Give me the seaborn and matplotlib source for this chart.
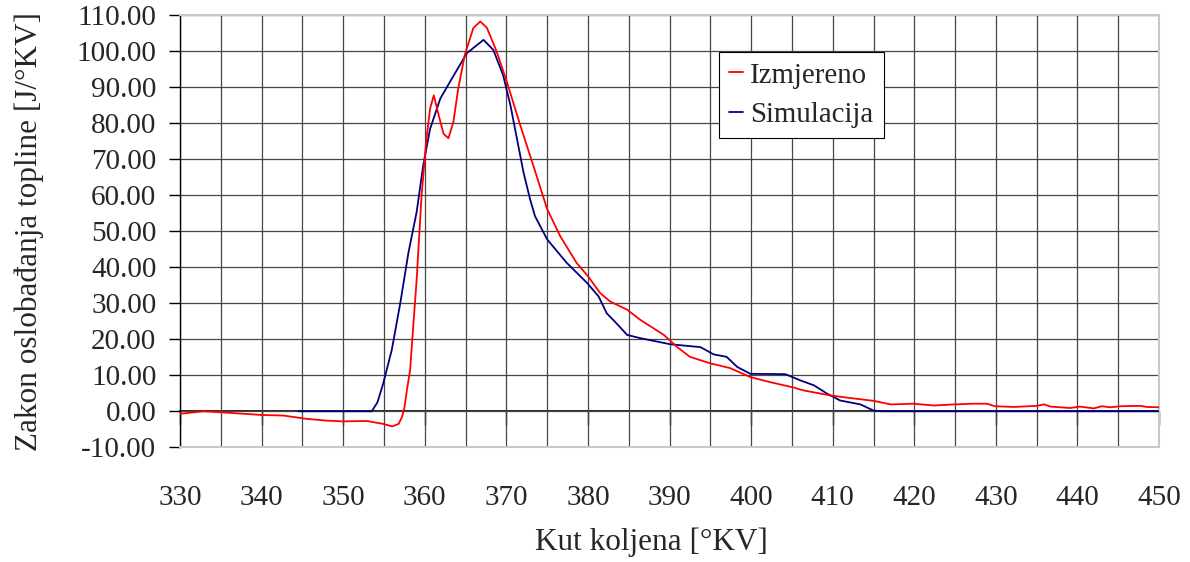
import numpy as np
import pandas as pd
import seaborn as sns
import matplotlib.pyplot as plt
from matplotlib.ticker import MultipleLocator, FormatStrFormatter

# measured heat release (Izmjereno)
kut_izmj = [330, 332.9, 336.5, 339.8, 342.7, 345.5, 348, 350, 352.9, 354.9, 356, 356.8,
            357.2, 357.5, 357.8, 358.2, 358.4, 359, 359.6, 360.2, 360.65, 361.1, 361.7,
            362.3, 362.9, 363.5, 364.1, 364.9, 365.95, 366.8, 367.6, 368.8, 370.05, 371.7,
            373.3, 375, 376.6, 378.6, 380, 381.5, 382.7, 384.8, 386.4, 389.3, 390.9, 392.5,
            395, 397.4, 399.9, 402.3, 405.2, 406.4, 409.7, 411.7, 415, 417.1, 419.9, 422.4,
            424.8, 427.3, 428.9, 429.9, 432.2, 435, 435.9, 436.7, 439.1, 440.3, 442, 443,
            444, 445.3, 447.7, 448.5, 450]
izmjereno = [-0.7, 0.0, -0.5, -1.0, -1.2, -2.1, -2.6, -2.8, -2.7, -3.5, -4.2, -3.5,
             -1.6, 1.0, 5.8, 11.4, 17.9, 36.5, 59.8, 75.6, 84.0, 87.7, 82.2,
             77.0, 75.8, 80.3, 89.6, 98.9, 106.4, 108.2, 106.5, 99.9, 91.5, 79.4,
             68.2, 56.1, 48.6, 41.2, 37.5, 32.8, 30.5, 28.2, 25.4, 21.2, 17.9, 15.1,
             13.3, 12.0, 9.5, 8.1, 6.6, 5.8, 4.4, 3.8, 2.9, 1.9, 2.1, 1.6,
             1.9, 2.1, 2.1, 1.4, 1.2, 1.5, 1.9, 1.3, 0.9, 1.3, 0.8, 1.4,
             1.1, 1.4, 1.5, 1.2, 1.1]

# simulated heat release (Simulacija)
kut_sim = [344.5, 353.5, 354.2, 354.9, 355.95, 357, 358, 359, 359.8, 360.65, 361.9, 363.1,
           365.15, 367.2, 368.4, 369.6, 370.5, 371.3, 372.1, 372.9, 373.5, 375, 377.4,
           379.9, 381.3, 382.3, 383.5, 384.8, 386.4, 390.1, 393.8, 395.4, 397, 398.3,
           399.9, 404.2, 406, 407.7, 409.3, 410.9, 413.4, 415, 416, 450]
simulacija = [0.0, 0.0, 2.5, 7.7, 17.0, 30.1, 44.1, 55.3, 68.2, 78.4, 86.8, 91.5,
              99.4, 103.1, 100.3, 93.3, 84.9, 75.6, 66.3, 58.9, 54.2, 47.7, 41.2,
              35.6, 31.9, 27.2, 24.4, 21.2, 20.3, 18.6, 17.8, 15.8, 15.1, 12.3,
              10.4, 10.3, 8.6, 7.2, 4.9, 3.0, 1.9, 0.2, 0.0, 0.0]

sns.set_style('white')
plt.rcParams['font.family'] = ['Liberation Serif', 'DejaVu Serif']

fig = plt.figure(figsize=(11.9, 5.62), dpi=100)
ax = fig.add_axes([0.1513, 0.2041, 0.8227, 0.7692])

df_izmj = pd.DataFrame({'kut': kut_izmj, 'q': izmjereno})
df_sim = pd.DataFrame({'kut': kut_sim, 'q': simulacija})

sns.lineplot(data=df_izmj, x='kut', y='q', ax=ax, color='#ff0000', lw=1.3,
             label='Izmjereno', sort=False, estimator=None, zorder=4)
sns.lineplot(data=df_sim, x='kut', y='q', ax=ax, color='#000080', lw=1.3,
             label='Simulacija', sort=False, estimator=None, zorder=3)

ax.set_xlim(330, 450)
ax.set_ylim(-10, 110)
ax.xaxis.set_major_locator(MultipleLocator(10))
ax.xaxis.set_minor_locator(MultipleLocator(5))
ax.yaxis.set_major_locator(MultipleLocator(10))
ax.yaxis.set_major_formatter(FormatStrFormatter('%.2f'))

ax.grid(True, which='both', axis='x', color='#454545', lw=0.9)
ax.grid(True, which='major', axis='y', color='#454545', lw=0.9)
ax.set_axisbelow(True)

for s in ['top', 'right', 'bottom']:
    ax.spines[s].set_color('#c8c8c8')
    ax.spines[s].set_linewidth(1.5)
ax.spines['left'].set_color('black')
ax.spines['left'].set_linewidth(1.0)

ax.tick_params(axis='x', which='both', length=0, pad=27, labelsize=21)
ax.tick_params(axis='y', which='major', length=8, width=1, color='black',
               direction='out', pad=9, labelsize=21, left=True)

# x axis line crossing at y=0
sec = ax.secondary_xaxis(10 / 120)
sec.set_xticks(np.arange(330, 451, 10))
sec.tick_params(axis='x', length=10, width=1, color='black', direction='out',
                labelbottom=False, labeltop=False)
sec.spines['bottom'].set_color('black')
sec.spines['bottom'].set_linewidth(1.2)

ax.set_xlabel('Kut koljena [°KV]', fontsize=22.5)
ax.set_ylabel('Zakon oslobađanja topline [J/°KV]', fontsize=22.5)
ax.xaxis.set_label_coords(0.482, -0.185)
ax.yaxis.set_label_coords(-0.139, 0.5)

leg = ax.legend(loc='upper left', bbox_to_anchor=(0.55, 0.914), fontsize=20.8,
                frameon=True, fancybox=False, handlelength=0.5, handletextpad=0.25,
                borderpad=0.35, labelspacing=0.45, borderaxespad=0)
leg.get_frame().set_edgecolor('black')
leg.get_frame().set_linewidth(0.8)
leg.get_frame().set_alpha(1)

fig.savefig('out.png', dpi=100)
